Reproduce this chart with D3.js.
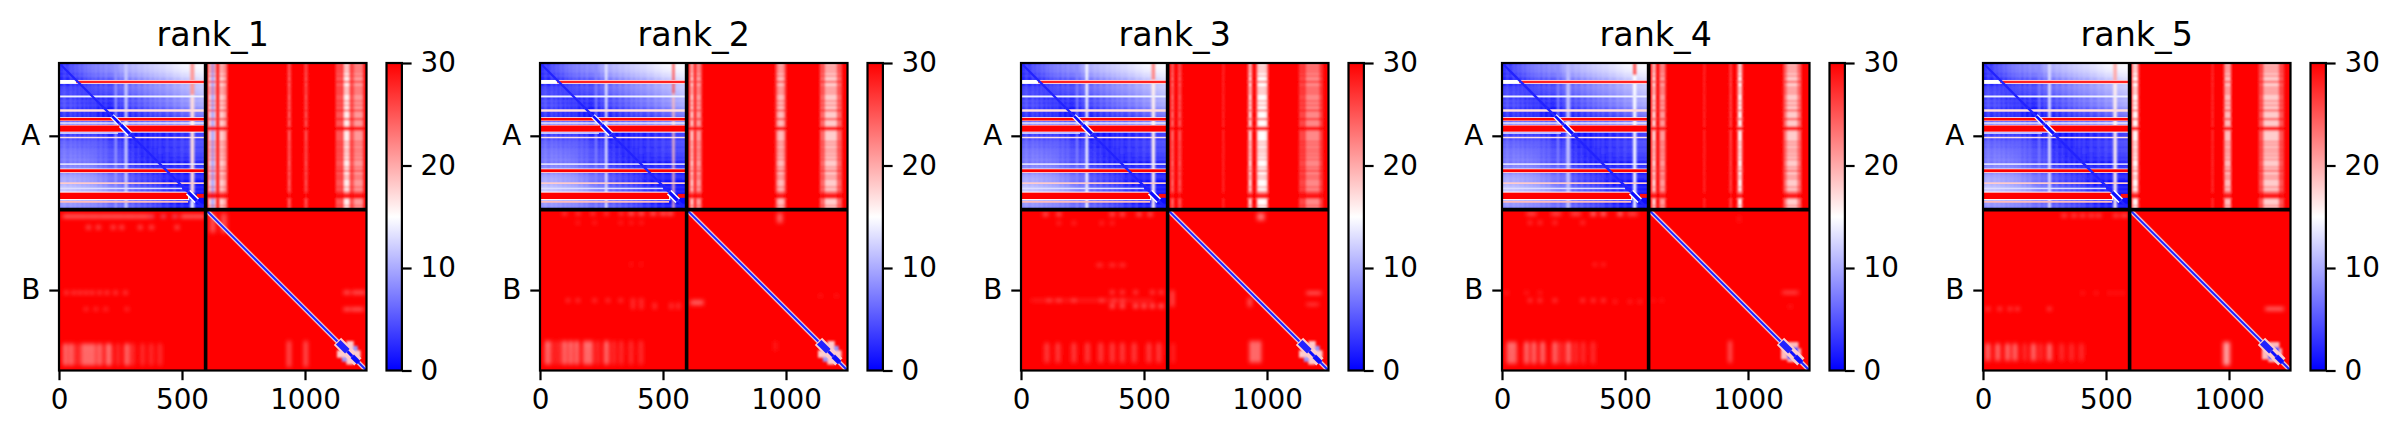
<!DOCTYPE html>
<html>
<head>
<meta charset="utf-8">
<script src="https://cdn.jsdelivr.net/npm/d3@7"></script>
<style>
  html, body { margin: 0; padding: 0; background: #fff; }
  text { font-family: "DejaVu Sans", sans-serif; fill: #000; }
</style>
</head>
<body>
<div id="chart"></div>
<script>
// everything below is in residue numbers
const titles = ["rank_1", "rank_2", "rank_3", "rank_4", "rank_5"];
const residueCount = 1250;
const chainBreak = 596;
const chainTicks = [296, 923];
const chainLabels = ["A", "B"];
const xTicks = [0, 500, 1000];
const colorTicks = [0, 10, 20, 30];

// coarse background of the A/A block, 50 residues a cell
const aaCoarse = [
  [1, 4, 6, 7, 8, 10, 11, 12, 13, 14, 15, 15],
  [2, 1, 3, 4, 4, 6, 7, 8, 9, 10, 11, 13],
  [3, 2, 1, 2, 3, 4, 5, 6, 7, 8, 9, 11],
  [4, 3, 2, 1, 1, 3, 4, 5, 6, 7, 8, 10],
  [2, 2, 2, 1, 1, 1, 2, 2, 2, 3, 4, 6],
  [2, 2, 1, 1, 1, 1, 1, 1, 1, 2, 2, 4],
  [5, 4, 4, 4, 2, 1, 1, 1, 2, 2, 3, 4],
  [6, 6, 5, 4, 4, 2, 1, 1, 1, 2, 2, 3],
  [7, 7, 7, 5, 5, 3, 2, 1, 1, 1, 1, 2],
  [9, 9, 8, 7, 6, 4, 3, 2, 1, 1, 1, 1],
  [13, 12, 11, 10, 8, 6, 5, 4, 2, 1, 1, 1],
  [7, 7, 6, 6, 5, 5, 4, 3, 2, 1, 1, 1]
];

// faint plaid of the A/A block
const plaidRows = [12, 24, 36, 52, 100, 112, 124, 155, 172, 320, 334, 350, 362, 376, 392, 424, 458, 470, 505, 522, 580];
const plaidCols = [22, 48, 66, 84, 104, 120, 136, 150, 170, 190, 250, 300, 325, 350, 372, 392, 410, 440, 470, 500];

// rows of the A/A block, [y0, y1, value, x0, x1]
const aaRows = [
  [69, 85, 15, 0, 596],
  [72, 82, 28, 70, 596],
  [132, 140, 14, 0, 596],
  [188, 198, 17, 0, 596],
  [220, 237, 15, 0, 596],
  [223, 234, 30, 0, 596],
  [241, 247, 15, 0, 596],
  [250, 283, 15, 0, 596],
  [254, 279, 30, 0, 596],
  [283, 288, 13, 0, 240],
  [300, 306, 17, 0, 596],
  [408, 414, 14, 0, 596],
  [429, 447, 15, 0, 596],
  [432, 444, 30, 0, 596],
  [485, 492, 18, 0, 596],
  [507, 513, 13, 0, 500],
  [523, 558, 15, 0, 530],
  [527, 553, 30, 0, 525],
  [532, 548, 29, 560, 596],
  [561, 568, 19, 0, 525]
];

// rows that cut the bands of the A/B block, [y0, y1]
const abCuts = [
  [73, 79],
  [190, 196],
  [225, 232],
  [258, 275],
  [435, 441],
  [527, 552]
];

// rows that cut the columns at the bottom of the B/A block, [y0, y1]
const baCuts = [
  [1158, 1163],
  [1176, 1181],
  [1192, 1197],
  [1208, 1213]
];

// A/A columns per rank, [x0, x1, y0, y1, value]
const rank1Columns = [
  [226, 236, 0, 596, 9], [266, 279, 0, 596, 12],
  [534, 550, 0, 130, 21], [534, 550, 130, 530, 17], [534, 550, 555, 596, 14]
];
const rank2Columns = [
  [224, 232, 0, 596, 8], [264, 274, 0, 596, 14],
  [538, 547, 0, 125, 25], [538, 547, 125, 596, 19]
];
const rank3Columns = [
  [224, 232, 0, 596, 8], [262, 273, 0, 596, 15],
  [531, 545, 0, 70, 22], [531, 545, 70, 596, 16]
];
const rank4Columns = [
  [224, 232, 0, 596, 8], [260, 278, 0, 596, 11],
  [533, 546, 0, 50, 25], [533, 546, 50, 596, 15]
];
const rank5Columns = [
  [225, 232, 0, 596, 8], [264, 276, 0, 596, 13],
  [530, 544, 0, 80, 20], [530, 544, 80, 596, 16]
];

// A/B bands per rank, [x0, x1, value]
const rank1Bands = [
  [606, 640, 18], [618, 632, 10], [650, 683, 21], [652, 670, 18],
  [930, 942, 24], [998, 1010, 25],
  [1125, 1240, 25], [1159, 1180, 16], [1200, 1233, 21]
];
const rank2Bands = [
  [609, 626, 19], [634, 656, 21],
  [958, 999, 23], [968, 990, 19],
  [1138, 1227, 24], [1159, 1206, 18]
];
const rank3Bands = [
  [609, 622, 24], [638, 652, 25], [820, 825, 26],
  [924, 939, 18], [958, 1003, 17], [966, 994, 15],
  [1130, 1227, 26], [1159, 1212, 22]
];
const rank4Bands = [
  [609, 626, 18], [640, 664, 21], [820, 825, 26],
  [926, 933, 24], [958, 976, 16],
  [1145, 1216, 23], [1159, 1200, 18]
];
const rank5Bands = [
  [605, 632, 19], [612, 626, 15], [930, 936, 26],
  [981, 1008, 19],
  [1121, 1223, 25], [1141, 1202, 18]
];

// B/A and B/B spots per rank, [y0, y1, value, spot width, x centres]
const rank1Spots = [
  [619, 628, 20, 50, [40, 90, 140, 190, 240, 290, 340, 520, 570]],
  [620, 627, 12, 18, [377, 424, 471]],
  [660, 676, 24, 16, [120, 160, 220, 255, 330, 376, 480]],
  [927, 940, 24, 14, [30, 60, 85, 110, 135, 165, 195, 230, 270]],
  [995, 1006, 25, 14, [110, 150, 190, 276]],
  [1141, 1229, 25, 10, [75, 190, 240, 300, 340, 375, 410]],
  [1141, 1229, 19, 12, [26, 50, 100, 120, 140, 165, 205, 276]],
  [612, 690, 25, 22, [625, 670]],
  [926, 940, 24, 26, [1170, 1205, 1232]],
  [995, 1007, 23, 26, [1170, 1200, 1225]],
  [1130, 1235, 24, 14, [935, 1003]]
];
const rank2Spots = [
  [606, 618, 24, 14, [100, 155, 215, 270, 330]],
  [606, 618, 22, 22, [371, 412, 460, 500, 530]],
  [644, 654, 25, 10, [154, 222, 328, 371, 412]],
  [812, 824, 27, 10, [371, 412]],
  [960, 970, 24, 14, [114, 154, 222, 276, 328, 378, 412]],
  [975, 1000, 25, 10, [378, 412, 466, 534, 562]],
  [1130, 1225, 25, 10, [50, 75, 235, 300, 330, 370, 410]],
  [1130, 1225, 19, 12, [30, 100, 125, 150, 185, 205, 270]],
  [964, 984, 24, 30, [626, 650]],
  [942, 952, 27, 14, [1140, 1205]],
  [610, 650, 24, 22, [975]],
  [1130, 1170, 27, 8, [957]]
];
const rank3Spots = [
  [608, 622, 23, 18, [100, 154, 371, 412, 480, 525]],
  [645, 656, 24, 10, [154, 215, 328, 371]],
  [815, 828, 26, 24, [320, 371, 412]],
  [926, 938, 23, 14, [371, 412, 466, 534, 570]],
  [962, 968, 26, 500, [290]],
  [960, 970, 21, 12, [114, 154, 215, 328, 378, 412]],
  [980, 996, 22, 16, [371, 412, 466, 500, 534, 570]],
  [1138, 1218, 24, 12, [105, 150, 215, 270, 324, 371, 412, 460, 520, 560]],
  [610, 640, 23, 30, [975]],
  [930, 940, 22, 60, [1190]],
  [976, 986, 25, 50, [1185]],
  [955, 990, 23, 12, [930]],
  [925, 990, 24, 12, [615]],
  [1130, 1218, 23, 22, [940, 965]],
  [1140, 1218, 26, 8, [618]]
];
const rank4Spots = [
  [606, 620, 20, 18, [371, 412, 480]],
  [606, 620, 25, 40, [120, 220, 300, 530]],
  [644, 654, 23, 12, [114, 154, 215, 328]],
  [814, 824, 25, 12, [378, 412]],
  [930, 938, 25, 12, [19, 100, 154]],
  [960, 970, 22, 12, [114, 154, 215, 328, 371, 412]],
  [965, 975, 26, 14, [460, 520, 560]],
  [1134, 1222, 25, 10, [240, 300, 330, 370]],
  [1134, 1222, 20, 13, [30, 50, 100, 130, 165, 215, 270]],
  [928, 938, 24, 65, [1172]],
  [986, 994, 27, 18, [1172]],
  [1130, 1218, 22, 10, [927]],
  [620, 650, 27, 6, [965]],
  [960, 970, 26, 8, [615, 650]]
];
const rank5Spots = [
  [614, 626, 24, 20, [330, 370, 405, 440, 470, 540, 570, 580]],
  [930, 940, 26, 10, [405, 460, 515, 540, 565]],
  [994, 1005, 23, 14, [20, 68, 110, 140, 270]],
  [1141, 1209, 25, 10, [170, 235, 320, 360, 400]],
  [1141, 1209, 20, 13, [20, 60, 100, 130, 205, 270]],
  [994, 1005, 21, 75, [1185]],
  [1134, 1229, 20, 26, [990]]
];

// pale halo and blue lobes at the end of chain B, [x0, x1, y0, y1, value]
const starHalo = [
  [1168, 1198, 1130, 1226, 18],
  [1130, 1226, 1168, 1198, 18],
  [1196, 1214, 1150, 1170, 9],
  [1150, 1170, 1196, 1214, 9]
];
const lobeHalo = [
  [1160, 1205, 1134, 1216, 19],
  [1134, 1216, 1160, 1205, 19],
  [1182, 1204, 1156, 1178, 4],
  [1160, 1182, 1182, 1204, 4]
];
const rankHalos = [starHalo, starHalo, starHalo, lobeHalo, lobeHalo];

// diagonal layers, [from, to, width in residues, value]
const aaDiagonal = [
  [0, 596, 10, 2],
  [215, 245, 20, 15],
  [215, 245, 11, 1],
  [252, 288, 24, 15],
  [252, 288, 13, 1],
  [525, 560, 26, 15],
  [525, 560, 14, 1]
];
const bbDiagonal = [
  [600, 1250, 20, 22],
  [600, 1250, 14, 13],
  [600, 1250, 8, 2],
  [1132, 1215, 42, 18],
  [1135, 1172, 26, 2],
  [1172, 1192, 12, 1],
  [1192, 1218, 20, 1]
];

const allColumns = [rank1Columns, rank2Columns, rank3Columns, rank4Columns, rank5Columns];
const allBands = [rank1Bands, rank2Bands, rank3Bands, rank4Bands, rank5Bands];
const allSpots = [rank1Spots, rank2Spots, rank3Spots, rank4Spots, rank5Spots];

const width = 2401, height = 438;
const firstLeft = 59, panelStep = 481;
const plotTop = 63, plotSize = 307.5;
const barGap = 20, barWidth = 15.4;
const lineWidth = 2.2, tickLength = 9.7, tickSize = 27.8;

const color = d3.scaleLinear().domain([0, 15, 30]).range(["#0000ff", "#ffffff", "#ff0000"]);

const svg = d3.select("#chart").append("svg")
  .attr("width", width)
  .attr("height", height)
  .style("display", "block");

const defs = svg.append("defs");
const addBlur = (id, sd) => defs.append("filter").attr("id", id)
  .attr("x", "-10%").attr("y", "-10%").attr("width", "120%").attr("height", "120%")
  .append("feGaussianBlur").attr("stdDeviation", sd);
addBlur("sharp", 0.55);
addBlur("mid", 0.9);
addBlur("soft", 1.3);
addBlur("softer", 1.9);
addBlur("wide", 7);

const barGradient = defs.append("linearGradient").attr("id", "bar")
  .attr("x1", 0).attr("x2", 0).attr("y1", 1).attr("y2", 0);
[0, 15, 30].forEach(v => {
  barGradient.append("stop").attr("offset", v / 30).attr("stop-color", color(v));
});

titles.forEach((title, i) => {
  const g = svg.append("g").attr("transform", `translate(${firstLeft + i * panelStep},${plotTop})`);
  const x = d3.scaleLinear().domain([0, residueCount]).range([0, plotSize]);
  const y = d3.scaleLinear().domain([0, residueCount]).range([0, plotSize]);

  defs.append("clipPath").attr("id", "plot" + i)
    .append("rect").attr("width", plotSize).attr("height", plotSize);
  defs.append("clipPath").attr("id", "aa" + i)
    .append("rect").attr("width", x(chainBreak)).attr("height", y(chainBreak));

  const plot = g.append("g").attr("clip-path", `url(#plot${i})`);
  plot.append("rect").attr("width", plotSize).attr("height", plotSize).attr("fill", color(30));

  const box = (sel, x0, x1, y0, y1, v) => sel.append("rect")
    .attr("x", x(x0)).attr("y", y(y0))
    .attr("width", x(x1) - x(x0)).attr("height", y(y1) - y(y0))
    .attr("fill", color(v));

  // A/A background and stripes stay inside their block
  const aaClip = plot.append("g").attr("clip-path", `url(#aa${i})`);
  box(aaClip, 0, chainBreak, 0, chainBreak, 4);
  const coarse = aaClip.append("g").attr("filter", "url(#wide)");
  aaCoarse.forEach((row, r) => row.forEach((v, c) => {
    box(coarse, c * 50 - (c === 0 ? 60 : 0), (c + 1) * 50 + (c === 11 ? 60 : 0),
      r * 50 - (r === 0 ? 60 : 0), (r + 1) * 50 + (r === 11 ? 60 : 0), v);
  }));

  const aaPlaid = aaClip.append("g").attr("filter", "url(#mid)").attr("opacity", 0.25);
  plaidRows.forEach(r => box(aaPlaid, 0, chainBreak, r - 3, r + 3, 15));
  plaidCols.forEach(c => box(aaPlaid, c - 3, c + 3, 0, chainBreak, 15));

  const aaCols = aaClip.append("g").attr("filter", "url(#mid)");
  allColumns[i].forEach(d => box(aaCols, d[0], d[1], d[2], d[3], d[4]));

  const aaDetail = aaClip.append("g").attr("filter", "url(#sharp)");
  aaRows.forEach(d => box(aaDetail, d[3], d[4], d[0], d[1], d[2]));

  // bands of the A/B block
  const soft = plot.append("g").attr("filter", "url(#soft)");
  allBands[i].forEach(d => box(soft, d[0], d[1], 0, chainBreak, d[2]));
  const bandPlaid = soft.append("g").attr("opacity", 0.4);
  plaidRows.forEach(r => box(bandPlaid, chainBreak, residueCount, r - 3, r + 3, 30));
  const bandCuts = soft.append("g").attr("opacity", 0.85);
  abCuts.forEach(d => box(bandCuts, chainBreak, residueCount, d[0], d[1], 30));

  // spots of the lower blocks
  const softer = plot.append("g").attr("filter", "url(#softer)");
  allSpots[i].forEach(d => d[4].forEach(c => box(softer, c - d[3] / 2, c + d[3] / 2, d[0], d[1], d[2])));
  const rowCuts = softer.append("g").attr("opacity", 0.45);
  baCuts.forEach(d => box(rowCuts, 0, chainBreak, d[0], d[1], 30));

  const halo = plot.append("g").attr("filter", "url(#soft)");
  rankHalos[i].forEach(d => box(halo, d[0], d[1], d[2], d[3], d[4]));

  // diagonal on top of everything
  const diag = plot.append("g").attr("filter", "url(#sharp)");
  const diagLine = (d) => diag.append("line")
    .attr("x1", x(d[0])).attr("y1", y(d[0]))
    .attr("x2", x(d[1])).attr("y2", y(d[1]))
    .attr("stroke", color(d[3]))
    .attr("stroke-width", x(d[2]));
  bbDiagonal.forEach(diagLine);
  aaDiagonal.forEach(diagLine);

  // chain separators
  g.append("line").attr("x1", x(chainBreak)).attr("x2", x(chainBreak)).attr("y1", 0).attr("y2", plotSize)
    .attr("stroke", "#000").attr("stroke-width", 3.6);
  g.append("line").attr("y1", y(chainBreak)).attr("y2", y(chainBreak)).attr("x1", 0).attr("x2", plotSize)
    .attr("stroke", "#000").attr("stroke-width", 3.6);

  // axes
  const xAxis = g.append("g").attr("transform", `translate(0,${plotSize})`)
    .call(d3.axisBottom(x).tickValues(xTicks).tickFormat(d3.format("d")).tickSizeOuter(0).tickSize(tickLength).tickPadding(9));
  const yAxis = g.append("g")
    .call(d3.axisLeft(y).tickValues(chainTicks).tickFormat((d, k) => chainLabels[k]).tickSizeOuter(0).tickSize(tickLength).tickPadding(9));
  [xAxis, yAxis].forEach(a => {
    a.select(".domain").remove();
    a.selectAll("line").attr("stroke", "#000").attr("stroke-width", lineWidth);
    a.selectAll("text").style("font-size", tickSize + "px").style("font-family", "DejaVu Sans");
  });

  g.append("rect").attr("width", plotSize).attr("height", plotSize)
    .attr("fill", "none").attr("stroke", "#000").attr("stroke-width", lineWidth);

  g.append("text").attr("x", plotSize / 2).attr("y", -17)
    .attr("text-anchor", "middle").style("font-size", "33.3px").text(title);

  // colour bar
  const bar = g.append("g").attr("transform", `translate(${plotSize + barGap},0)`);
  const barScale = d3.scaleLinear().domain([0, 30]).range([plotSize, 0]);
  bar.append("rect").attr("width", barWidth).attr("height", plotSize)
    .attr("fill", "url(#bar)").attr("stroke", "#000").attr("stroke-width", lineWidth);
  const barAxis = bar.append("g").attr("transform", `translate(${barWidth},0)`)
    .call(d3.axisRight(barScale).tickValues(colorTicks).tickSizeOuter(0).tickSize(tickLength).tickPadding(9));
  barAxis.select(".domain").remove();
  barAxis.selectAll("line").attr("stroke", "#000").attr("stroke-width", lineWidth);
  barAxis.selectAll("text").style("font-size", tickSize + "px").style("font-family", "DejaVu Sans");
});
</script>
</body>
</html>
